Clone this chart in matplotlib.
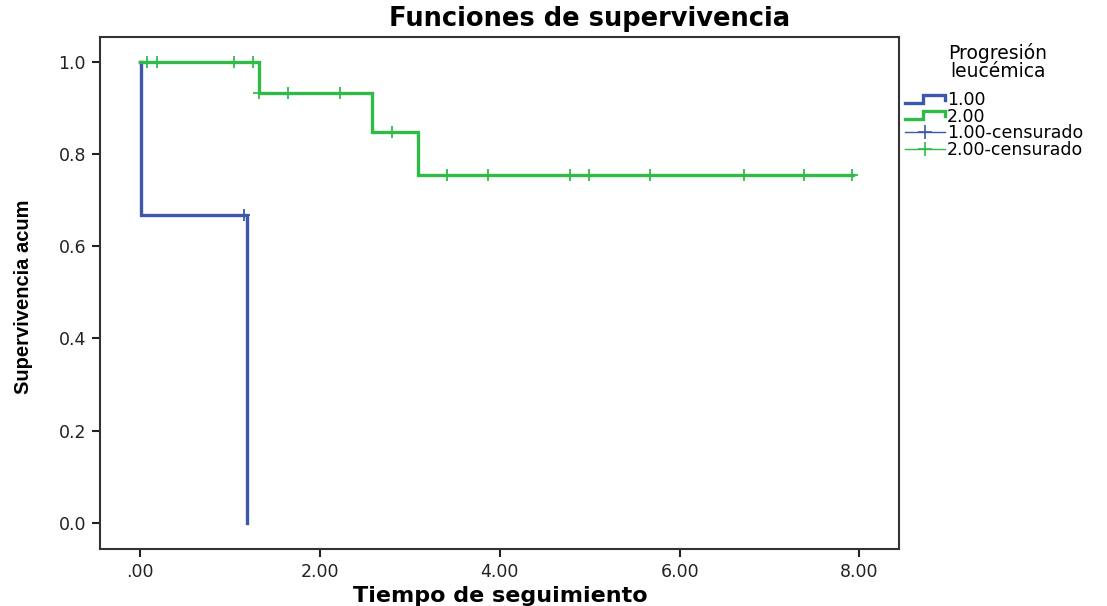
import numpy as np
import matplotlib
matplotlib.use("Agg")
from matplotlib import pyplot as plt
from matplotlib.lines import Line2D
from matplotlib.legend_handler import HandlerBase

# Kaplan-Meier steps
grupos = ["1.00", "2.00"]

t_grupo1 = [0.0, 0.01, 1.19]
s_grupo1 = [1.0, 0.667, 0.0]
cens_grupo1 = [1.16]

t_grupo2 = [0.0, 1.32, 2.58, 3.09, 7.93]
s_grupo2 = [1.0, 0.933, 0.848, 0.754, 0.754]
cens_grupo2 = [0.08, 0.19, 1.04, 1.26, 1.32, 1.65, 2.22, 2.80,
               3.41, 3.87, 4.78, 4.99, 5.67, 6.72, 7.38, 7.92]

x_ticks = [0, 2, 4, 6, 8]
x_ticklabels = [".00", "2.00", "4.00", "6.00", "8.00"]
y_ticks = [0.0, 0.2, 0.4, 0.6, 0.8, 1.0]
y_ticklabels = ["0.0", "0.2", "0.4", "0.6", "0.8", "1.0"]

BLUE = "#3d57ab"
GREEN = "#30bb48"


def surv_at(times, surv, c):
    i = np.searchsorted(times, c, side="right") - 1
    return surv[i]


class StepHandler(HandlerBase):
    def create_artists(self, legend, orig_handle, xdescent, ydescent,
                       width, height, fontsize, trans):
        x0 = -xdescent
        y0 = -ydescent
        xs = [x0, x0 + 0.45 * width, x0 + 0.45 * width, x0 + width, x0 + width]
        ys = [y0 + 0.2 * height, y0 + 0.2 * height, y0 + 0.85 * height,
              y0 + 0.85 * height, y0 + 0.45 * height]
        line = Line2D(xs, ys, color=orig_handle.get_color(), lw=2.4,
                      solid_joinstyle="miter", transform=trans)
        return [line]


fig = plt.figure(figsize=(11.07, 6.06), dpi=100)
ax = fig.add_axes([100 / 1107, 1 - 549 / 606, 799 / 1107, 512 / 606])

for t, s, cens, col in [(t_grupo1, s_grupo1, cens_grupo1, BLUE),
                        (t_grupo2, s_grupo2, cens_grupo2, GREEN)]:
    ax.step(t, s, where="post", color=col, lw=2.4, solid_joinstyle="miter")
    cy = [surv_at(t, s, c) for c in cens]
    ax.plot(cens, cy, ls="none", marker="+", ms=9, mew=1.3, color=col)

ax.set_xlim(-0.445, 8.44)
ax.set_ylim(-0.057, 1.054)
ax.set_xticks(x_ticks)
ax.set_xticklabels(x_ticklabels)
ax.set_yticks(y_ticks)
ax.set_yticklabels(y_ticklabels)
ax.tick_params(direction="out", length=6, width=1.5, labelsize=12.5,
               colors="#222222", pad=4)
for sp in ax.spines.values():
    sp.set_linewidth(1.5)
    sp.set_color("#333333")

fig.text(500 / 1107, 1 - 596 / 606, "Tiempo de seguimiento",
         ha="center", va="center", fontsize=16, fontweight="bold")
fig.text(24 / 1107, 1 - 297 / 606, "Supervivencia acum", rotation=90,
         ha="center", va="center", fontsize=14.5, fontweight="bold",
         family=["Liberation Sans", "DejaVu Sans"])
fig.text(590 / 1107, 1 - 19 / 606, "Funciones de supervivencia",
         ha="center", va="center", fontsize=18.5, fontweight="bold")

# legend title drawn apart so the gap to the entries matches
fig.text(998 / 1107, 1 - 62 / 606, "Progresión\nleucémica",
         ha="center", va="center", multialignment="center",
         fontsize=13.5, linespacing=0.95)

h1 = Line2D([], [], color=BLUE)
h2 = Line2D([], [], color=GREEN)
h3 = Line2D([], [], color=BLUE, lw=1, marker="+", ms=10, mew=1.2)
h4 = Line2D([], [], color=GREEN, lw=1, marker="+", ms=10, mew=1.2)
leg = fig.legend([h1, h2, h3, h4],
                 grupos + [g + "-censurado" for g in grupos],
                 handler_map={h1: StepHandler(), h2: StepHandler()},
                 loc="upper left",
                 bbox_to_anchor=(893 / 1107, 1 - 79 / 606),
                 frameon=False, fontsize=12.5,
                 handlelength=2.3, handletextpad=0.1, labelspacing=-0.08,
                 borderpad=0.2)

fig.savefig("out.png", dpi=100)
